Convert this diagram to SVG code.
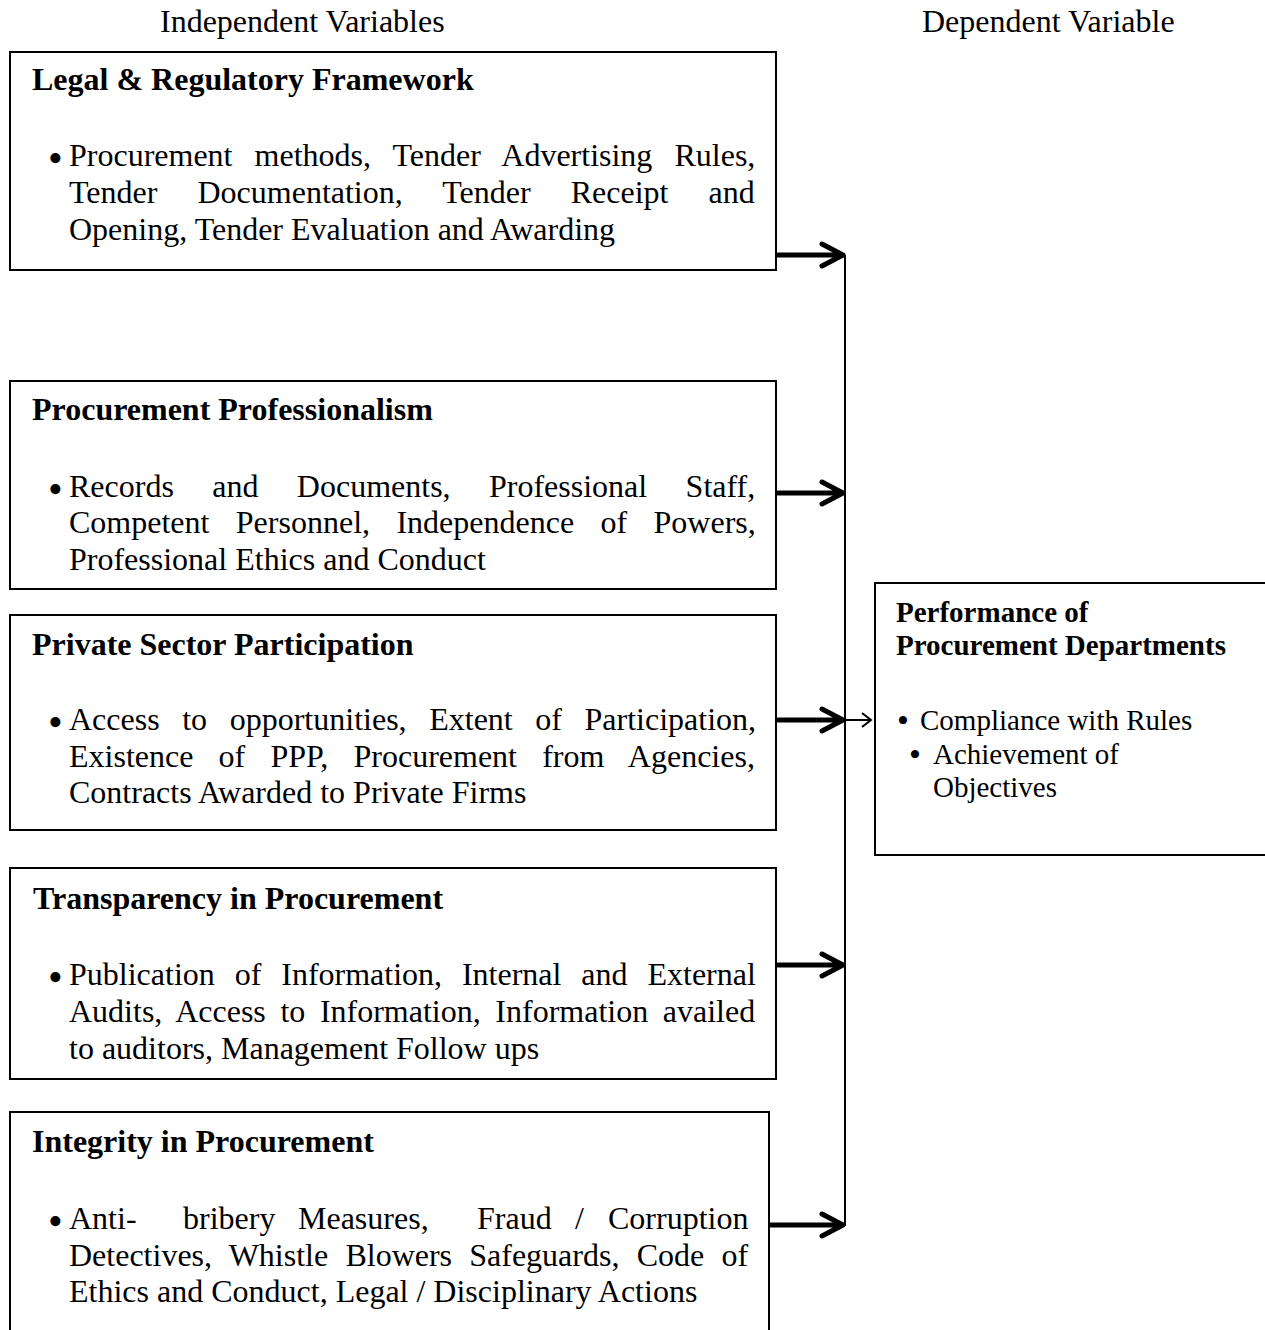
<svg xmlns="http://www.w3.org/2000/svg" width="1265" height="1330" viewBox="0 0 1265 1330">
<style>
  text { font-family: "Liberation Serif", "Times New Roman", serif; fill: #000; }
  .hdr { font-size: 32px; }
  .ttl { font-size: 32px; font-weight: bold; }
  .body { font-size: 32px; }
  .dttl { font-size: 29px; font-weight: bold; }
  .dbody { font-size: 29px; }
  .bul { font-size: 42px; }
  .dbul { font-size: 34px; }
  .box { fill: #fff; stroke: #000; stroke-width: 2; }
  .thick { fill: none; stroke: #000; stroke-width: 5; stroke-linecap: round; stroke-linejoin: round; }
  .thin { fill: none; stroke: #000; stroke-width: 2; }
</style>
<rect width="1265" height="1330" fill="#fff"/>

<g id="labels">
  <text class="hdr" x="160" y="32">Independent Variables</text>
  <text class="hdr" x="922" y="32">Dependent Variable</text>
</g>

<g id="legal">
  <rect class="box" x="10" y="52" width="766" height="218"/>
  <text class="ttl" x="32" y="90">Legal &amp; Regulatory Framework</text>
  <text class="bul" x="48" y="172">•</text>
  <text class="body" x="69" y="166" word-spacing="14.1">Procurement methods, Tender Advertising Rules,</text>
  <text class="body" x="69" y="203" word-spacing="32.1">Tender Documentation, Tender Receipt and</text>
  <text class="body" x="69" y="240">Opening, Tender Evaluation and Awarding</text>
</g>

<g id="professionalism">
  <rect class="box" x="10" y="381" width="766" height="208"/>
  <text class="ttl" x="32" y="420">Procurement Professionalism</text>
  <text class="bul" x="48" y="503">•</text>
  <text class="body" x="69" y="497" word-spacing="30.4">Records and Documents, Professional Staff,</text>
  <text class="body" x="69" y="533" word-spacing="18.4">Competent Personnel, Independence of Powers,</text>
  <text class="body" x="69" y="570">Professional Ethics and Conduct</text>
</g>

<g id="private">
  <rect class="box" x="10" y="615" width="766" height="215"/>
  <text class="ttl" x="32" y="655">Private Sector Participation</text>
  <text class="bul" x="48" y="736">•</text>
  <text class="body" x="69" y="730" word-spacing="14.6">Access to opportunities, Extent of Participation,</text>
  <text class="body" x="69" y="767" word-spacing="17.2">Existence of PPP, Procurement from Agencies,</text>
  <text class="body" x="69" y="803">Contracts Awarded to Private Firms</text>
</g>

<g id="transparency">
  <rect class="box" x="10" y="868" width="766" height="211"/>
  <text class="ttl" x="33" y="909">Transparency in Procurement</text>
  <text class="bul" x="48" y="991">•</text>
  <text class="body" x="69" y="985" word-spacing="11.9">Publication of Information, Internal and External</text>
  <text class="body" x="69" y="1022" word-spacing="6.6">Audits, Access to Information, Information availed</text>
  <text class="body" x="69" y="1059">to auditors, Management Follow ups</text>
</g>

<g id="integrity">
  <rect class="box" x="10" y="1112" width="759" height="240"/>
  <text class="ttl" x="32" y="1152">Integrity in Procurement</text>
  <text class="bul" x="48" y="1235">•</text>
  <text class="body" y="1229"><tspan x="69">Anti-</tspan><tspan x="183">bribery</tspan><tspan x="298">Measures,</tspan><tspan x="477">Fraud</tspan><tspan x="575">/</tspan><tspan x="608">Corruption</tspan></text>
  <text class="body" x="69" y="1266" word-spacing="9.2">Detectives, Whistle Blowers Safeguards, Code of</text>
  <text class="body" x="69" y="1302">Ethics and Conduct, Legal / Disciplinary Actions</text>
</g>

<g id="performance">
  <rect class="box" x="875" y="583" width="420" height="272"/>
  <text class="dttl" x="896" y="622">Performance of</text>
  <text class="dttl" x="896" y="655">Procurement Departments</text>
  <text class="dbul" x="897" y="732">•</text>
  <text class="dbody" x="920" y="730">Compliance with Rules</text>
  <text class="dbul" x="909" y="766">•</text>
  <text class="dbody" x="933" y="764">Achievement of</text>
  <text class="dbody" x="933" y="797">Objectives</text>
</g>

<g id="connectors">
  <line class="thin" x1="845" y1="255" x2="845" y2="1226"/>
  <path class="thick" d="M778 255 H842 M822 244 L843 255 L822 266"/>
  <path class="thick" d="M778 493 H842 M822 482 L843 493 L822 504"/>
  <path class="thick" d="M778 720 H842 M822 709 L843 720 L822 731"/>
  <path class="thick" d="M778 965 H842 M822 954 L843 965 L822 976"/>
  <path class="thick" d="M771 1225 H842 M822 1214 L843 1225 L822 1236"/>
  <path class="thin" d="M845 720 H870 M862 713 L871 720 L862 727"/>
</g>
</svg>
